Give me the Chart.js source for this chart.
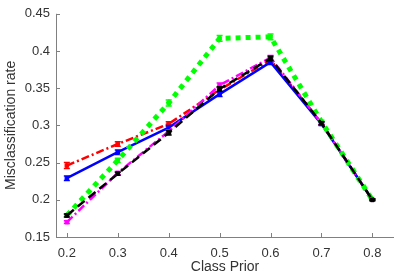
<!DOCTYPE html>
<html>
<head>
<meta charset="utf-8">
<script src="https://cdn.jsdelivr.net/npm/chart.js@4"></script>
<style>
  body { margin: 0; background: #fff; }
  #wrap { width: 399px; height: 279px; }
</style>
</head>
<body>
<div id="wrap"><canvas id="chart" width="399" height="279"></canvas></div>
<script>
  /************************************************
   *  DATA
   ************************************************/
  const classPrior = [0.2, 0.3, 0.4, 0.5, 0.6, 0.7, 0.8];
  const yTicks = [0.15, 0.2, 0.25, 0.3, 0.35, 0.4, 0.45];

  const redRate = [0.246, 0.275, 0.302, 0.348, 0.388, 0.303, 0.200];
  const redErr = [0.004, 0.003, 0.003, 0.003, 0.003, 0.002, 0.001];
  const blueRate = [0.229, 0.264, 0.297, 0.342, 0.385, 0.302, 0.200];
  const blueErr = [0.003, 0.003, 0.003, 0.003, 0.003, 0.002, 0.001];
  const greenRate = [0.179, 0.253, 0.330, 0.417, 0.419, 0.305, 0.200];
  const greenErr = [0.002, 0.003, 0.004, 0.004, 0.004, 0.002, 0.001];
  const magentaRate = [0.170, 0.236, 0.292, 0.354, 0.391, 0.303, 0.200];
  const magentaErr = [0.002, 0.002, 0.002, 0.003, 0.003, 0.002, 0.001];
  const blackRate = [0.179, 0.235, 0.290, 0.349, 0.390, 0.303, 0.200];
  const blackErr = [0.002, 0.002, 0.003, 0.003, 0.003, 0.002, 0.001];

  const toPoints = (vals) => vals.map((v, i) => ({ x: classPrior[i], y: v }));

  function makeSeries(label, vals, errs, color, width, dash) {
    return {
      label: label,
      data: toPoints(vals),
      errors: errs,
      borderColor: color,
      backgroundColor: color,
      borderWidth: width,
      borderDash: dash,
      borderCapStyle: 'butt',
      pointStyle: 'rect',
      pointRadius: 2.5,
      pointBorderWidth: 1,
      tension: 0,
      fill: false,
    };
  }

  // first dataset is drawn on top
  const datasets = [
    makeSeries('black', blackRate, blackErr, '#000000', 2.5, [9, 5]),
    makeSeries('green', greenRate, greenErr, '#00ff00', 5, [5, 5]),
    makeSeries('magenta', magentaRate, magentaErr, '#ff00ff', 2.5, [8, 3, 2, 3]),
    makeSeries('blue', blueRate, blueErr, '#0000ff', 2.5, []),
    makeSeries('red', redRate, redErr, '#ff0000', 2.5, [8, 3, 2, 3]),
  ];

  /************************************************
   *  PLUGINS: error bars + inward ticks
   ************************************************/
  const errorBars = {
    id: 'errorBars',
    afterDatasetDraw(chart, args) {
      const ds = chart.data.datasets[args.index];
      const xs = chart.scales.x, ys = chart.scales.y;
      const ctx = chart.ctx;
      ctx.save();
      ctx.strokeStyle = ds.borderColor;
      ctx.lineWidth = 1.5;
      ds.data.forEach((p, i) => {
        const e = ds.errors[i];
        const px = xs.getPixelForValue(p.x);
        const top = ys.getPixelForValue(p.y + e);
        const bot = ys.getPixelForValue(p.y - e);
        ctx.beginPath();
        ctx.moveTo(px, top); ctx.lineTo(px, bot);
        ctx.moveTo(px - 3, top); ctx.lineTo(px + 3, top);
        ctx.moveTo(px - 3, bot); ctx.lineTo(px + 3, bot);
        ctx.stroke();
      });
      ctx.restore();
    }
  };

  const inwardTicks = {
    id: 'inwardTicks',
    afterDraw(chart) {
      const ctx = chart.ctx;
      const area = chart.chartArea;
      const xs = chart.scales.x, ys = chart.scales.y;
      ctx.save();
      ctx.strokeStyle = '#808080';
      ctx.lineWidth = 1;
      ctx.beginPath();
      ctx.moveTo(area.left + 0.5, area.top);
      ctx.lineTo(area.left + 0.5, area.bottom + 0.5);
      ctx.lineTo(area.right, area.bottom + 0.5);
      xs.ticks.forEach((t) => {
        const px = Math.round(xs.getPixelForValue(t.value)) + 0.5;
        ctx.moveTo(px, area.bottom);
        ctx.lineTo(px, area.bottom - 4);
      });
      ys.ticks.forEach((t) => {
        const py = Math.round(ys.getPixelForValue(t.value)) + 0.5;
        ctx.moveTo(area.left, py);
        ctx.lineTo(area.left + 4, py);
      });
      ctx.stroke();
      ctx.restore();
    }
  };

  /************************************************
   *  CHART
   ************************************************/
  Chart.defaults.font.family = '"Liberation Sans", Arial, sans-serif';
  Chart.defaults.color = '#333333';

  new Chart(document.getElementById('chart'), {
    type: 'line',
    data: { datasets: datasets },
    plugins: [errorBars, inwardTicks],
    options: {
      responsive: false,
      animation: false,
      layout: { padding: { top: 8, right: 0, left: 0, bottom: 0 } },
      plugins: { legend: { display: false }, tooltip: { enabled: false } },
      scales: {
        x: {
          type: 'linear',
          min: 0.1787,
          max: 0.8425,
          afterBuildTicks: (s) => { s.ticks = classPrior.map((v) => ({ value: v })); },
          afterFit: (s) => { s.height = 42; },
          grid: { display: false, drawTicks: false },
          border: { display: false },
          ticks: { font: { size: 13 }, padding: 9, maxRotation: 0, callback: (v) => v.toString() },
          title: { display: true, text: 'Class Prior', font: { size: 14 }, padding: { top: 0, bottom: 3 } },
        },
        y: {
          min: 0.15,
          max: 0.45,
          afterBuildTicks: (s) => { s.ticks = yTicks.map((v) => ({ value: v })); },
          afterFit: (s) => { s.width = 56; },
          grid: { display: false, drawTicks: false },
          border: { display: false },
          ticks: { font: { size: 13 }, padding: 6, callback: (v) => v.toString() },
          title: { display: true, text: 'Misclassification rate', font: { size: 14 }, padding: { top: 3, bottom: 0 } },
        },
      },
    },
  });
</script>
</body>
</html>
